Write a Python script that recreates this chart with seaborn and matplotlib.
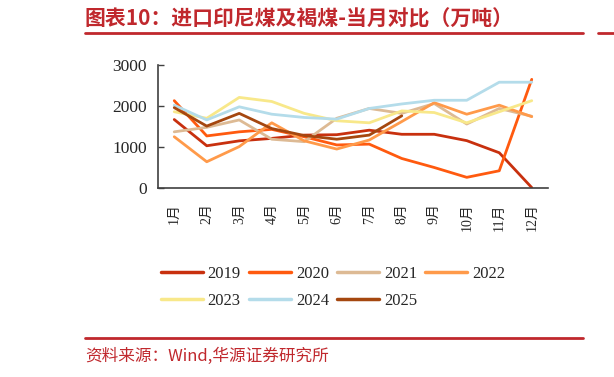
import numpy as np
import pandas as pd
import matplotlib
matplotlib.use("Agg")
import matplotlib.pyplot as plt
import seaborn as sns
from matplotlib.ticker import FixedLocator

# data (万吨)
months = ["1月", "2月", "3月", "4月", "5月", "6月", "7月", "8月", "9月", "10月", "11月", "12月"]
y2019 = [1670, 1030, 1150, 1210, 1290, 1300, 1410, 1310, 1310, 1155, 860, 10]
y2020 = [2130, 1270, 1370, 1430, 1250, 1050, 1070, 720, 500, 260, 420, 2650]
y2021 = [1370, 1480, 1660, 1190, 1130, 1700, 1940, 1820, 2060, 1560, 1940, 1750]
y2022 = [1250, 640, 1010, 1590, 1150, 950, 1170, 1620, 2080, 1800, 2020, 1740]
y2023 = [1860, 1700, 2210, 2110, 1820, 1640, 1590, 1880, 1840, 1590, 1860, 2130]
y2024 = [2020, 1660, 1980, 1800, 1720, 1680, 1940, 2050, 2140, 2140, 2580, 2580]
y2025 = [1960, 1510, 1820, 1450, 1280, 1190, 1290, 1760]
years = ["2019", "2020", "2021", "2022", "2023", "2024", "2025"]
series = [y2019, y2020, y2021, y2022, y2023, y2024, y2025]
colors = ["#C8300E", "#FF5A0F", "#DDBA94", "#FF9A4A", "#F8E88A", "#B4DCEA", "#A5470F"]

title = "图表10：进口印尼煤及褐煤-当月对比（万吨）"
source = "资料来源：Wind,华源证券研究所"

rows = []
for yr, vals in zip(years, series):
    for i, v in enumerate(vals):
        rows.append({"pos": i, "value": v, "year": yr})
df = pd.DataFrame(rows)

sns.set_style("white")
plt.rcParams["font.family"] = ["Liberation Serif", "Noto Sans CJK SC"]

fig = plt.figure(figsize=(6.14, 3.77), dpi=100)
ax = fig.add_axes([158 / 614, 1 - 188 / 377, 390 / 614, 123 / 377])

sns.lineplot(data=df, x="pos", y="value", hue="year", hue_order=years,
             palette=colors, linewidth=2.0, ax=ax, legend=False)

ax.set_xlim(-0.5, 11.5)
ax.set_ylim(0, 3000)
ax.set_yticks([0, 1000, 2000, 3000])
ax.set_xticks(range(12))
ax.set_xticklabels(months, rotation=90, va="top", fontsize=10)
ax.xaxis.set_minor_locator(FixedLocator(np.arange(0.5, 12, 1)))
ax.tick_params(axis="x", which="major", length=0, pad=11)
ax.tick_params(axis="x", which="minor", direction="in", length=4, width=1, color="#404040")
ax.tick_params(axis="y", direction="in", length=4.5, width=1, color="#404040",
               labelsize=12.5, pad=8, left=True)
ax.set_xlabel("")
ax.set_ylabel("")
for s in ["top", "right"]:
    ax.spines[s].set_visible(False)
for s in ["left", "bottom"]:
    ax.spines[s].set_color("#404040")
    ax.spines[s].set_linewidth(1.2)

# legend filled row by row: 2019-2022 on top, 2023-2025 below
order = [0, 4, 1, 5, 2, 6, 3]
handles = [plt.Line2D([], [], color=colors[i], lw=2.5) for i in order]
labels = [years[i] for i in order]
fig.legend(handles, labels, loc="upper left", bbox_to_anchor=(146 / 614, 1 - 251 / 377),
           ncol=4, frameon=False, fontsize=12, handlelength=2.5, handletextpad=0.3,
           columnspacing=0.5, labelspacing=0.65)

red = "#C0282D"
fig.text(85 / 614, 1 - 19 / 377, title, color=red, fontsize=15, fontweight="bold",
         family=["Noto Sans CJK SC"], va="center", ha="left")
fig.add_artist(plt.Line2D([85 / 614, 583 / 614], [1 - 33 / 377] * 2, color=red, lw=2))
fig.add_artist(plt.Line2D([598 / 614, 1.0], [1 - 33 / 377] * 2, color=red, lw=2))
fig.add_artist(plt.Line2D([85 / 614, 583 / 614], [1 - 338 / 377] * 2, color=red, lw=2))
fig.text(85 / 614, 1 - 356 / 377, source, color=red, fontsize=12,
         family=["Noto Sans CJK SC"], va="center", ha="left")

fig.savefig("out.png", dpi=100)
